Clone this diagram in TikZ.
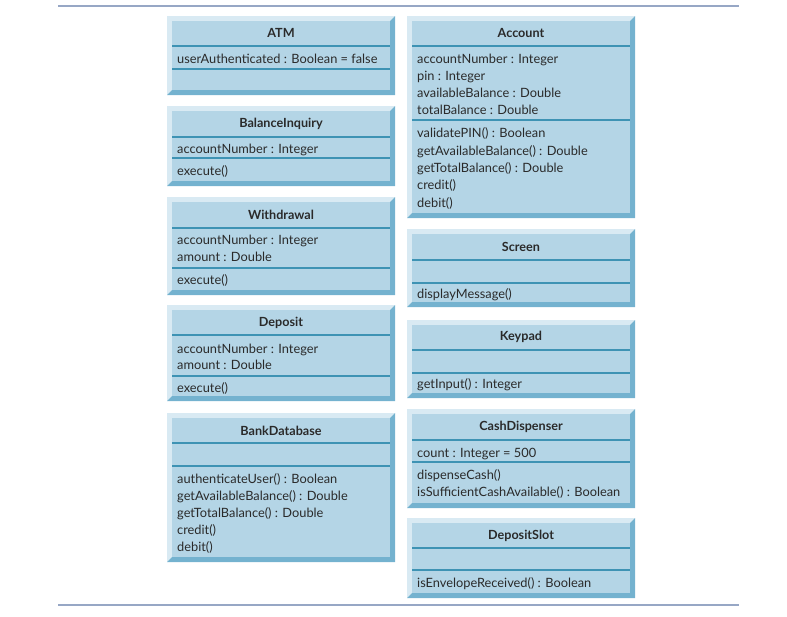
\documentclass[tikz,border=0pt]{standalone}
\usepackage{fontspec}
\setmainfont{Lato}
\usepackage{tikz}
\usetikzlibrary{positioning}
\definecolor{cFace}{HTML}{B4D5E6}
\definecolor{cLight}{HTML}{D9EAF3}
\definecolor{cDark}{HTML}{74B2CF}
\definecolor{cRule}{HTML}{3E93B4}
\definecolor{cInk}{HTML}{2A2A2A}
\definecolor{cFrame}{HTML}{97A7C5}
\tikzset{
  title/.style  = {font=\fontsize{12.6}{15}\selectfont\bfseries, text=cInk, inner sep=0pt},
  member/.style = {font=\fontsize{12.8}{15}\selectfont, text=cInk, inner sep=0pt,
                   anchor=mid west, yshift=-1.5pt},
  divider/.style = {draw=cRule, line width=1.3pt},
  pagerule/.style = {draw=cFrame, line width=1.8pt},
}
% bevelled class frame: x1, y1, x2, y2 (outer corners)
\newcommand{\bevelbox}[4]{%
  \fill[cLight] (#1,#2) -- (#3,#2) -- (#3-5,#2+5) -- (#1+5,#2+5) -- (#1+5,#4-5) -- (#1,#4) -- cycle;
  \fill[cDark] (#3,#2) -- (#3,#4) -- (#1,#4) -- (#1+5,#4-5) -- (#3-5,#4-5) -- (#3-5,#2+5) -- cycle;
  \fill[cFace] (#1+5,#2+5) rectangle (#3-5,#4-5);}
% compartment lines of a class: x1, x2, first y, second y
\newcommand{\compartments}[4]{%
  \draw[divider] (#1+5,#3) -- (#2-5,#3);
  \draw[divider] (#1+5,#4) -- (#2-5,#4);}

\begin{document}
\begin{tikzpicture}[x=1pt, y=-1pt]
  \useasboundingbox (0,0) rectangle (787,616);
  \draw[pagerule] (58,6) -- (739,6);
  \draw[pagerule] (58,605) -- (739,605);

  % left column
  \bevelbox{167}{16}{395}{95}
  \compartments{167}{395}{46}{69}
  \node[title] (atm) at (281,33) {ATM};
  \node[member] (atm-a1) at (177,59) {userAuthenticated : Boolean = false};

  \bevelbox{167}{106}{395}{186}
  \compartments{167}{395}{137}{158}
  \node[title] (inq) at (281,124) {BalanceInquiry};
  \node[member] (inq-a1) at (177,149) {accountNumber : Integer};
  \node[member] (inq-m1) at (177,171) {execute()};

  \bevelbox{167}{197}{395}{295}
  \compartments{167}{395}{228}{268}
  \node[title] (wd) at (281,215) {Withdrawal};
  \node[member] (wd-a1) at (177,240) {accountNumber : Integer};
  \node[member] (wd-a2) at (177,257) {amount : Double};
  \node[member] (wd-m1) at (177,280) {execute()};

  \bevelbox{167}{305}{395}{401}
  \compartments{167}{395}{335}{376}
  \node[title] (dep) at (281,323) {Deposit};
  \node[member] (dep-a1) at (177,349) {accountNumber : Integer};
  \node[member] (dep-a2) at (177,365) {amount : Double};
  \node[member] (dep-m1) at (177,388) {execute()};

  \bevelbox{167}{413}{395}{562}
  \compartments{167}{395}{443}{466}
  \node[title] (db) at (281,431) {BankDatabase};
  \node[member] (db-m1) at (177,479) {authenticateUser() : Boolean};
  \node[member] (db-m2) at (177,496) {getAvailableBalance() : Double};
  \node[member] (db-m3) at (177,513) {getTotalBalance() : Double};
  \node[member] (db-m4) at (177,530) {credit()};
  \node[member] (db-m5) at (177,547) {debit()};

  % right column
  \bevelbox{407}{16}{635}{218}
  \compartments{407}{635}{46}{120}
  \node[title] (acc) at (521,33) {Account};
  \node[member] (acc-a1) at (417,59) {accountNumber : Integer};
  \node[member] (acc-a2) at (417,76) {pin : Integer};
  \node[member] (acc-a3) at (417,93) {availableBalance : Double};
  \node[member] (acc-a4) at (417,110) {totalBalance : Double};
  \node[member] (acc-m1) at (417,133) {validatePIN() : Boolean};
  \node[member] (acc-m2) at (417,151) {getAvailableBalance() : Double};
  \node[member] (acc-m3) at (417,168) {getTotalBalance() : Double};
  \node[member] (acc-m4) at (417,185) {credit()};
  \node[member] (acc-m5) at (417,203) {debit()};

  \bevelbox{407}{229}{635}{307}
  \compartments{407}{635}{260}{283}
  \node[title] (scr) at (521,247) {Screen};
  \node[member] (scr-m1) at (417,294) {displayMessage()};

  \bevelbox{407}{320}{635}{398}
  \compartments{407}{635}{350}{373}
  \node[title] (key) at (521,337) {Keypad};
  \node[member] (key-m1) at (417,384) {getInput() : Integer};

  \bevelbox{407}{409}{635}{508}
  \compartments{407}{635}{440}{462}
  \node[title] (cash) at (521,427) {CashDispenser};
  \node[member] (cash-a1) at (417,453) {count : Integer = 500};
  \node[member] (cash-m1) at (417,475) {dispenseCash()};
  \node[member] (cash-m2) at (417,492) {isSufficientCashAvailable() : Boolean};

  \bevelbox{407}{518}{635}{598}
  \compartments{407}{635}{548}{570}
  \node[title] (slot) at (521,536) {DepositSlot};
  \node[member] (slot-m1) at (417,583) {isEnvelopeReceived() : Boolean};
\end{tikzpicture}
\end{document}
